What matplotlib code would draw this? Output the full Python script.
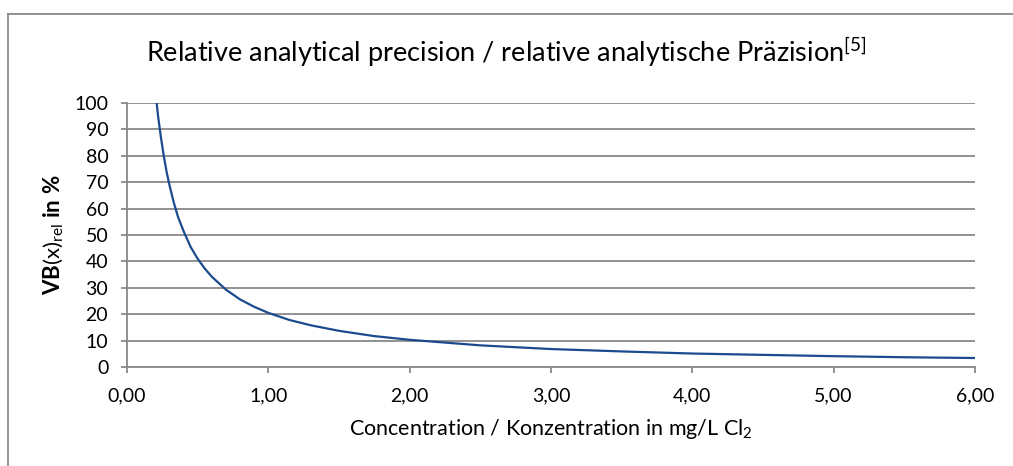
import matplotlib
matplotlib.use("Agg")
import matplotlib.pyplot as plt
from matplotlib.lines import Line2D
from matplotlib.ticker import FuncFormatter

# values
conc = [0.21, 0.22, 0.24, 0.26, 0.28, 0.30, 0.33, 0.36, 0.40, 0.45, 0.50, 0.55, 0.60,
        0.70, 0.80, 0.90, 1.00, 1.15, 1.30, 1.50, 1.75, 2.00, 2.50, 3.00, 3.50,
        4.00, 4.50, 5.00, 5.50, 6.00]
vb_rel = [100.0, 95.0, 87.0, 80.0, 74.0, 69.0, 62.5, 57.0, 51.5, 45.5, 41.0, 37.3, 34.2,
          29.3, 25.6, 22.8, 20.5, 17.8, 15.8, 13.7, 11.7, 10.3, 8.2, 6.8, 5.9,
          5.1, 4.6, 4.1, 3.7, 3.4]
y_ticks = list(range(0, 101, 10))
x_ticks = [0, 1, 2, 3, 4, 5, 6]

title = r"Relative analytical precision / relative analytische Präzision$^{\mathrm{[5]}}$"
xlabel = r"Concentration / Konzentration in mg/L Cl$_{\mathrm{2}}$"
ylabel = r"$\mathbf{VB}\mathrm{(x)}_{\mathrm{rel}}\ \mathbf{in\ \%}$"

plt.rcParams["font.family"] = ["Lato", "DejaVu Sans"]
plt.rcParams["mathtext.fontset"] = "custom"
plt.rcParams["mathtext.rm"] = "Lato"
plt.rcParams["mathtext.it"] = "Lato:italic"
plt.rcParams["mathtext.bf"] = "Lato:bold"

grey = "#898989"
fig = plt.figure(figsize=(10.13, 4.66), dpi=100)
ax = fig.add_axes([127 / 1013, 1 - 367 / 466, 848 / 1013, 264 / 466])

ax.plot(conc, vb_rel, color="#1B4B8E", lw=1.6, solid_joinstyle="round")

ax.set_xlim(0, 6)
ax.set_ylim(0, 100)
ax.set_xticks(x_ticks)
ax.set_yticks(y_ticks)
ax.xaxis.set_major_formatter(FuncFormatter(lambda v, p: f"{v:.2f}".replace(".", ",")))
ax.grid(axis="y", color=grey, lw=1.3)
ax.set_axisbelow(True)
for s in ["top", "right"]:
    ax.spines[s].set_visible(False)
for s in ["left", "bottom"]:
    ax.spines[s].set_color(grey)
    ax.spines[s].set_linewidth(1.3)
ax.tick_params(axis="both", direction="out", length=4.5, width=1.3, color=grey,
               labelsize=14, labelcolor="black")
ax.tick_params(axis="y", pad=9)
ax.tick_params(axis="x", pad=10)

ax.set_xlabel(xlabel, fontsize=15.5, labelpad=9)
ax.set_ylabel(ylabel, fontsize=16, labelpad=7)
fig.text(0.5, 1 - 62 / 466, title, fontsize=19.5, ha="center", va="baseline")

# outer chart frame (only top and left edges are inside the image)
fig.add_artist(Line2D([7.5 / 1013, 1.0], [1 - 13.5 / 466, 1 - 13.5 / 466],
                      transform=fig.transFigure, color=grey, lw=1.3))
fig.add_artist(Line2D([7.5 / 1013, 7.5 / 1013], [0.0, 1 - 13.5 / 466],
                      transform=fig.transFigure, color=grey, lw=1.3))

fig.savefig("out.png", dpi=100)
